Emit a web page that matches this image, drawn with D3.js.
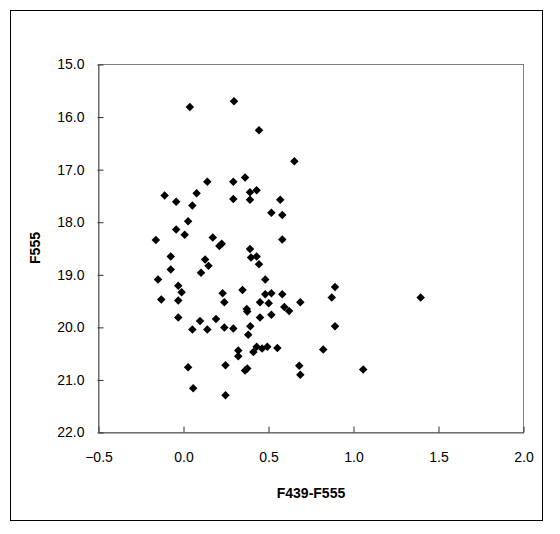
<!DOCTYPE html>
<html><head><meta charset="utf-8">
<script src="https://cdn.jsdelivr.net/npm/d3@7"></script>
<style>body{margin:0;background:#fff}svg{display:block}text{font-family:"Liberation Sans",Arial,sans-serif}</style>
</head><body>
<script>
const xTicks = [-0.5, 0.0, 0.5, 1.0, 1.5, 2.0];
const yTicks = [15, 16, 17, 18, 19, 20, 21, 22];
const colorIdx = [0.04,0.30,0.447,0.655,0.365,0.143,0.296,-0.108,0.08,0.394,0.433,-0.04,0.055,0.296,0.394,0.572,0.52,0.584,0.03,-0.04,0.01,-0.16,0.175,0.228,0.214,0.584,0.394,0.40,0.433,0.447,-0.072,0.13,0.15,-0.072,0.106,-0.147,0.484,-0.028,-0.008,0.233,0.35,0.484,0.52,0.584,0.894,0.875,1.398,-0.128,-0.028,0.243,0.453,0.504,0.69,0.375,0.378,0.596,0.624,0.52,0.453,-0.028,0.10,0.194,0.055,0.143,0.243,0.296,0.396,0.384,0.894,0.325,0.325,0.414,0.433,0.465,0.496,0.555,0.825,0.365,0.378,0.684,0.69,1.06,0.03,0.25,0.06,0.25];
const mag555 = [15.82,15.71,16.26,16.85,17.16,17.24,17.24,17.50,17.46,17.44,17.40,17.62,17.69,17.57,17.58,17.58,17.83,17.87,17.99,18.15,18.25,18.35,18.30,18.42,18.46,18.34,18.52,18.68,18.66,18.81,18.66,18.72,18.84,18.91,18.97,19.10,19.10,19.22,19.34,19.36,19.30,19.38,19.36,19.38,19.24,19.44,19.44,19.48,19.50,19.53,19.53,19.55,19.53,19.66,19.71,19.62,19.70,19.77,19.82,19.82,19.89,19.85,20.05,20.05,20.01,20.03,19.99,20.15,19.99,20.45,20.56,20.48,20.38,20.41,20.38,20.40,20.43,20.83,20.79,20.74,20.91,20.81,20.77,20.73,21.17,21.30];

const W = 560, H = 534;
const svg = d3.select("body").append("svg").attr("width", W).attr("height", H);
svg.append("rect").attr("x", 10.5).attr("y", 10.5).attr("width", 532).attr("height", 510)
  .attr("fill", "none").attr("stroke", "#000").attr("stroke-width", 1);

const L = 98, R = 523, T = 64, B = 432;
const x = d3.scaleLinear().domain([-0.5, 2.0]).range([L, R]);
const y = d3.scaleLinear().domain([15, 22]).range([T, B]);

svg.append("rect").attr("x", L + 0.5).attr("y", T + 0.5).attr("width", R - L).attr("height", B - T)
  .attr("fill", "none").attr("stroke", "#808080");

const xa = svg.append("g").attr("transform", `translate(0.5,${B + 0.5})`)
  .call(d3.axisBottom(x).tickValues(xTicks).tickFormat(d3.format(".1f")).tickSizeInner(-6).tickSizeOuter(0).tickPadding(20));
const ya = svg.append("g").attr("transform", `translate(${L + 0.5},0.5)`)
  .call(d3.axisLeft(y).tickValues(yTicks).tickFormat(d3.format(".1f")).tickSizeInner(-5).tickSizeOuter(0).tickPadding(14));
ya.selectAll(".tick line").attr("x1", -1);
[xa, ya].forEach(a => {
  a.select(".domain").attr("stroke", "#606060");
  a.selectAll(".tick line").attr("stroke", "#303030");
  a.selectAll(".tick text").attr("font-size", 14).attr("fill", "#000");
});

const diamond = d3.symbol().type(d3.symbolDiamond2).size(46);
svg.append("g").selectAll("path").data(colorIdx.map((c, i) => [c, mag555[i]])).join("path")
  .attr("transform", d => `translate(${x(d[0])},${y(d[1])})`)
  .attr("d", diamond).attr("fill", "#000");

svg.append("text").attr("x", (L + R) / 2 + 0.5).attr("y", 498).attr("text-anchor", "middle")
  .attr("font-size", 14).attr("font-weight", "bold").text("F439-F555");
svg.append("text").attr("transform", `translate(40,${(T + B) / 2}) rotate(-90)`).attr("text-anchor", "middle")
  .attr("font-size", 14).attr("font-weight", "bold").text("F555");
</script>
</body></html>
